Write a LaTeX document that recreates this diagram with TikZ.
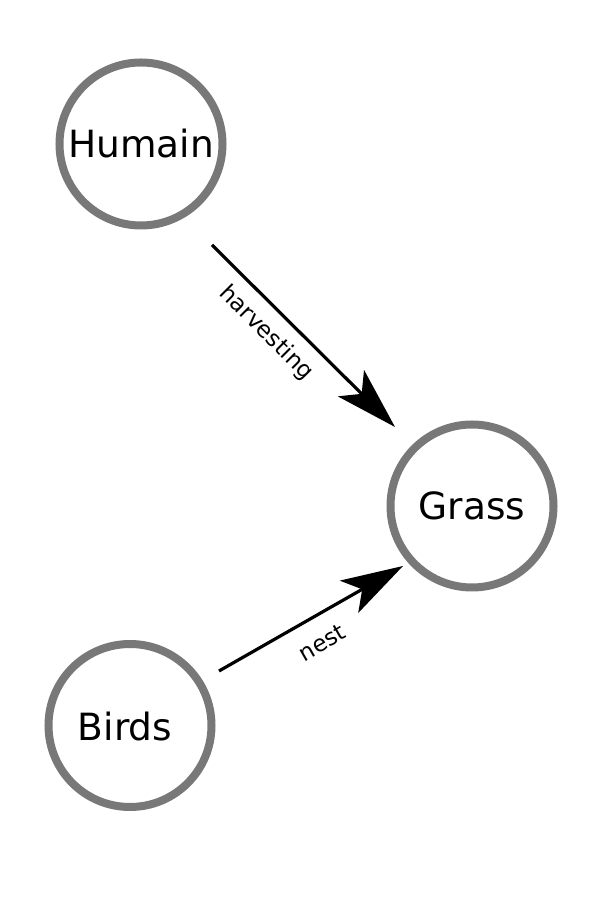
\documentclass[tikz,border=0pt]{standalone}
\usepackage{fontspec}
\setmainfont{DejaVu Sans}
\usetikzlibrary{arrows.meta}
\begin{document}
\begin{tikzpicture}[x=1pt,y=1pt,
  entity/.style={circle,draw=black!53,line width=8pt,minimum size=163pt,inner sep=0pt,
    font=\fontsize{37.5}{44}\selectfont},
  rel/.style={line width=3.2pt,-{Stealth[length=62pt,width=37pt,inset=15pt]}},
  rellabel/.style={font=\fontsize{23}{27}\selectfont,inner sep=0pt}]
\useasboundingbox (0,0) rectangle (601,918);
\node[entity] (humain) at (141,774) {Humain};
\node[entity] (grass) at (472,412) {Grass};
\node[entity] (birds) at (130,192.5) {};
\node[font=\fontsize{37.5}{44}\selectfont] (birdstext) at (125,191) {Birds};
\coordinate (h1) at (212,673);
\coordinate (h2) at (395,491);
\coordinate (n1) at (219,247);
\coordinate (n2) at (403,352);
\draw[rel] (h1) -- (h2);
\draw[rel] (n1) -- (n2);
\node[rellabel,rotate=-45] (lh) at (266,585) {harvesting};
\node[rellabel,rotate=30] (ln) at (322,275) {nest};
\end{tikzpicture}
\end{document}
